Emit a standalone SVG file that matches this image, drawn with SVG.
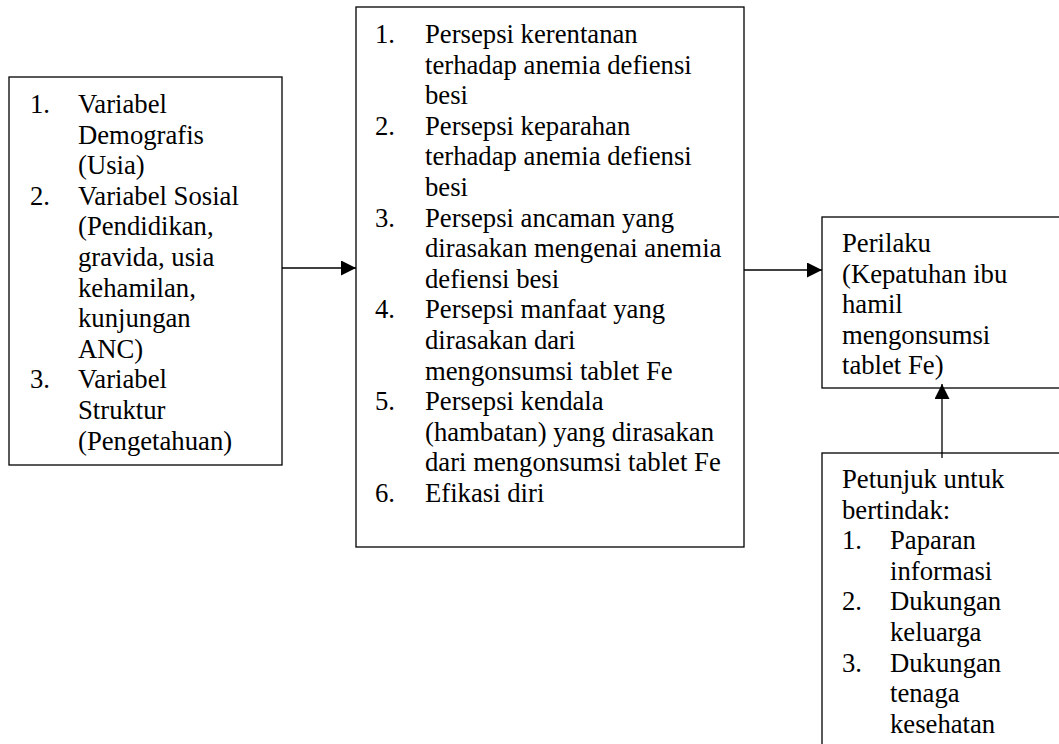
<svg xmlns="http://www.w3.org/2000/svg" width="1059" height="744" viewBox="0 0 1059 744">
<style>
  .box { fill: #fff; stroke: #000; stroke-width: 1.3; }
  .t { font-family: "Liberation Serif", "Times New Roman", serif; font-size: 26.7px; fill: #000; }
  .edge { stroke: #000; stroke-width: 1.3; fill: none; }
</style>
<defs>
  <marker id="arr" viewBox="0 0 15 15" refX="15" refY="7.5" markerWidth="15" markerHeight="15" markerUnits="userSpaceOnUse" orient="auto">
    <path d="M0,0 L15,7.5 L0,15 Z" fill="#000"/>
  </marker>
</defs>
<rect width="1059" height="744" fill="#fff"/>

<g id="node-faktor">
  <rect class="box" x="9" y="77" width="273" height="388"/>
  <text class="t">
    <tspan x="30" y="113">1.</tspan><tspan x="78" y="113">Variabel</tspan>
    <tspan x="78" y="143.6">Demografis</tspan>
    <tspan x="78" y="174.2">(Usia)</tspan>
    <tspan x="30" y="204.8">2.</tspan><tspan x="78" y="204.8">Variabel Sosial</tspan>
    <tspan x="78" y="235.4">(Pendidikan,</tspan>
    <tspan x="78" y="266">gravida, usia</tspan>
    <tspan x="78" y="296.6">kehamilan,</tspan>
    <tspan x="78" y="327.2">kunjungan</tspan>
    <tspan x="78" y="357.8">ANC)</tspan>
    <tspan x="30" y="388.4">3.</tspan><tspan x="78" y="388.4">Variabel</tspan>
    <tspan x="78" y="419">Struktur</tspan>
    <tspan x="78" y="449.6">(Pengetahuan)</tspan>
  </text>
</g>

<g id="node-persepsi">
  <rect class="box" x="356" y="7" width="388" height="540"/>
  <text class="t">
    <tspan x="375" y="43">1.</tspan><tspan x="425" y="43">Persepsi kerentanan</tspan>
    <tspan x="425" y="73.6">terhadap anemia defiensi</tspan>
    <tspan x="425" y="104.2">besi</tspan>
    <tspan x="375" y="134.8">2.</tspan><tspan x="425" y="134.8">Persepsi keparahan</tspan>
    <tspan x="425" y="165.4">terhadap anemia defiensi</tspan>
    <tspan x="425" y="196">besi</tspan>
    <tspan x="375" y="226.6">3.</tspan><tspan x="425" y="226.6">Persepsi ancaman yang</tspan>
    <tspan x="425" y="257.2">dirasakan mengenai anemia</tspan>
    <tspan x="425" y="287.8">defiensi besi</tspan>
    <tspan x="375" y="318.4">4.</tspan><tspan x="425" y="318.4">Persepsi manfaat yang</tspan>
    <tspan x="425" y="349">dirasakan dari</tspan>
    <tspan x="425" y="379.6">mengonsumsi tablet Fe</tspan>
    <tspan x="375" y="410.2">5.</tspan><tspan x="425" y="410.2">Persepsi kendala</tspan>
    <tspan x="425" y="440.8">(hambatan) yang dirasakan</tspan>
    <tspan x="425" y="471.4">dari mengonsumsi tablet Fe</tspan>
    <tspan x="375" y="502">6.</tspan><tspan x="425" y="502">Efikasi diri</tspan>
  </text>
</g>

<g id="node-perilaku">
  <rect class="box" x="822" y="217" width="260" height="171"/>
  <text class="t">
    <tspan x="842" y="252">Perilaku</tspan>
    <tspan x="842" y="282.6">(Kepatuhan ibu</tspan>
    <tspan x="842" y="313.2">hamil</tspan>
    <tspan x="842" y="343.8">mengonsumsi</tspan>
    <tspan x="842" y="374.4">tablet Fe)</tspan>
  </text>
</g>

<g id="node-petunjuk">
  <rect class="box" x="822" y="453" width="260" height="320"/>
  <text class="t">
    <tspan x="842" y="488">Petunjuk untuk</tspan>
    <tspan x="842" y="518.6">bertindak:</tspan>
    <tspan x="842" y="549.2">1.</tspan><tspan x="890" y="549.2">Paparan</tspan>
    <tspan x="890" y="579.8">informasi</tspan>
    <tspan x="842" y="610.4">2.</tspan><tspan x="890" y="610.4">Dukungan</tspan>
    <tspan x="890" y="641">keluarga</tspan>
    <tspan x="842" y="671.6">3.</tspan><tspan x="890" y="671.6">Dukungan</tspan>
    <tspan x="890" y="702.2">tenaga</tspan>
    <tspan x="890" y="732.8">kesehatan</tspan>
  </text>
</g>

<g id="connectors">
  <line class="edge" x1="282" y1="268" x2="356" y2="268" marker-end="url(#arr)"/>
  <line class="edge" x1="744" y1="270" x2="822" y2="270" marker-end="url(#arr)"/>
  <line class="edge" x1="942" y1="458" x2="942" y2="384" marker-end="url(#arr)"/>
</g>
</svg>
